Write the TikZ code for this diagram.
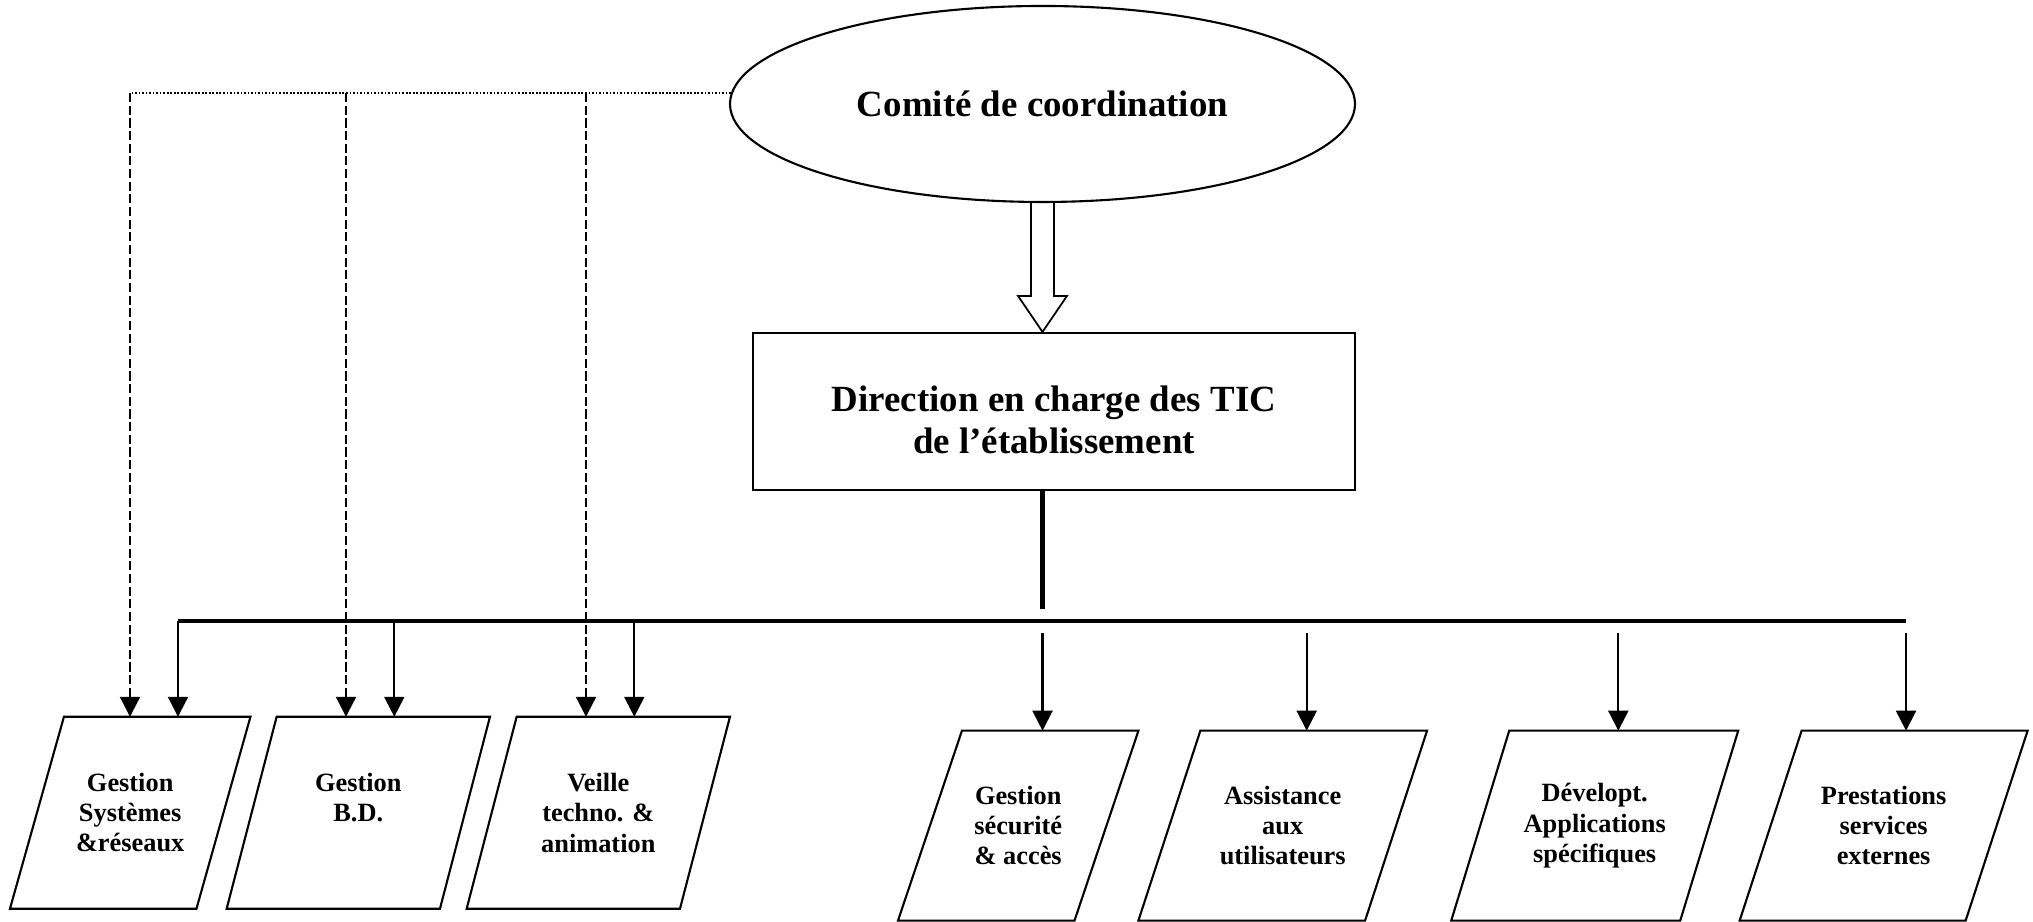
\documentclass[tikz,border=0pt]{standalone}
\usepackage{fontspec}
\setmainfont{Liberation Serif}
\usetikzlibrary{shapes.geometric,arrows.meta}

\begin{document}
\begin{tikzpicture}[->,>={Triangle[length=2mm,width=2mm]},line width=0.6pt,
  main node/.style={draw,font=\fontsize{10.5}{12}\selectfont\bfseries,align=center,inner sep=0pt},
  unit node/.style={rectangle,outer sep=0pt,inner sep=0pt,minimum height=1.92cm,font=\fontsize{7.5}{8.6}\selectfont\bfseries,align=center},
  right unit/.style={unit node,minimum height=1.90cm},
  frame/.style={-,line width=0.6pt},
  dashed arrow/.style={dash pattern=on 2.6pt off 1pt},
  bus line/.style={-,line width=1.3pt}]
            \useasboundingbox (0,0) rectangle (20.33,9.22);

            \node[main node,ellipse,minimum width=6.25cm,minimum height=1.96cm] (1) at (10.425,8.18) {Comité de coordination};
            \node[main node,rectangle,minimum width=6.02cm,minimum height=1.57cm] (2) at (10.54,5.105) {\rule{0pt}{4.3mm}Direction en charge des TIC\\de l’établissement};

            \node[unit node,minimum width=1.865cm] (3) at (1.302,1.092) {Gestion\\Systèmes\\\&réseaux};
            \node[unit node,minimum width=2.133cm] (4) at (3.583,1.092) {Gestion\\B.D.\\\mbox{}};
            \node[unit node,minimum width=2.133cm] (5) at (5.983,1.092) {Veille\\techno. \&\\animation};

            \node[right unit,minimum width=1.765cm] (6) at (10.182,0.963) {Gestion\\sécurité\\\& accès};
            \node[right unit,minimum width=2.267cm] (7) at (12.827,0.963) {Assistance\\aux\\utilisateurs};
            \node[right unit,minimum width=2.29cm] (8) at (15.947,0.963) {Dévelopt.\\Applications\\spécifiques};
            \node[right unit,minimum width=2.26cm] (9) at (18.836,0.963) {Prestations\\services\\externes};

            % slanted frames
            \draw[frame] ([xshift=2.7mm]3.north west) -- ([xshift=2.7mm]3.north east) -- ([xshift=-2.7mm]3.south east) -- ([xshift=-2.7mm]3.south west) -- cycle;
            \draw[frame] ([xshift=2.5mm]4.north west) -- ([xshift=2.5mm]4.north east) -- ([xshift=-2.5mm]4.south east) -- ([xshift=-2.5mm]4.south west) -- cycle;
            \draw[frame] ([xshift=2.5mm]5.north west) -- ([xshift=2.5mm]5.north east) -- ([xshift=-2.5mm]5.south east) -- ([xshift=-2.5mm]5.south west) -- cycle;
            \draw[frame] ([xshift=3.2mm]6.north west) -- ([xshift=3.2mm]6.north east) -- ([xshift=-3.2mm]6.south east) -- ([xshift=-3.2mm]6.south west) -- cycle;
            \draw[frame] ([xshift=3.1mm]7.north west) -- ([xshift=3.1mm]7.north east) -- ([xshift=-3.1mm]7.south east) -- ([xshift=-3.1mm]7.south west) -- cycle;
            \draw[frame] ([xshift=2.9mm]8.north west) -- ([xshift=2.9mm]8.north east) -- ([xshift=-2.9mm]8.south east) -- ([xshift=-2.9mm]8.south west) -- cycle;
            \draw[frame] ([xshift=3.1mm]9.north west) -- ([xshift=3.1mm]9.north east) -- ([xshift=-3.1mm]9.south east) -- ([xshift=-3.1mm]9.south west) -- cycle;

            \coordinate (d1) at (1.30,8.29);
            \coordinate (d2) at (3.46,8.29);
            \coordinate (d3) at (5.86,8.29);
            \coordinate (s1) at (1.78,3.01);
            \coordinate (s2) at (3.943,3.01);
            \coordinate (s3) at (6.343,3.01);
            \coordinate (e) at (19.06,3.01);
            \coordinate (link) at (10.425,3.13);
            \coordinate (r1) at (10.425,2.89);
            \coordinate (r2) at (13.067,2.89);
            \coordinate (r3) at (16.183,2.89);
            \coordinate (r4) at (19.06,2.89);
            \coordinate (tip) at (1.south |- 2.north);

            % coordination
            \draw[-,line width=0.5pt,dash pattern=on 0.5pt off 0.5pt] (1.178) -- (1.178 -| d1);
            \draw[dashed arrow] (1.178 -| d1) -- (d1 |- 3.north);
            \draw[dashed arrow] (1.178 -| d2) -- (d2 |- 4.north);
            \draw[dashed arrow] (1.178 -| d3) -- (d3 |- 5.north);

            \draw[-,line width=0.5pt] ([xshift=-1.15mm]1.south) -- ([shift={(-0.115,0.36)}]tip) -- ([shift={(-0.245,0.36)}]tip) -- (tip)
                -- ([shift={(0.245,0.36)}]tip) -- ([shift={(0.115,0.36)}]tip) -- ([xshift=1.15mm]1.south);

            % hierarchy
            \draw[bus line] (2.south -| link) -- (link);
            \draw[bus line] (s1) -- (e);
            \draw (s1) -- (s1 |- 3.north);
            \draw (s2) -- (s2 |- 4.north);
            \draw (s3) -- (s3 |- 5.north);
            \draw (r1) -- (r1 |- 6.north);
            \draw (r2) -- (r2 |- 7.north);
            \draw (r3) -- (r3 |- 8.north);
            \draw (r4) -- (r4 |- 9.north);
\end{tikzpicture}
\end{document}
